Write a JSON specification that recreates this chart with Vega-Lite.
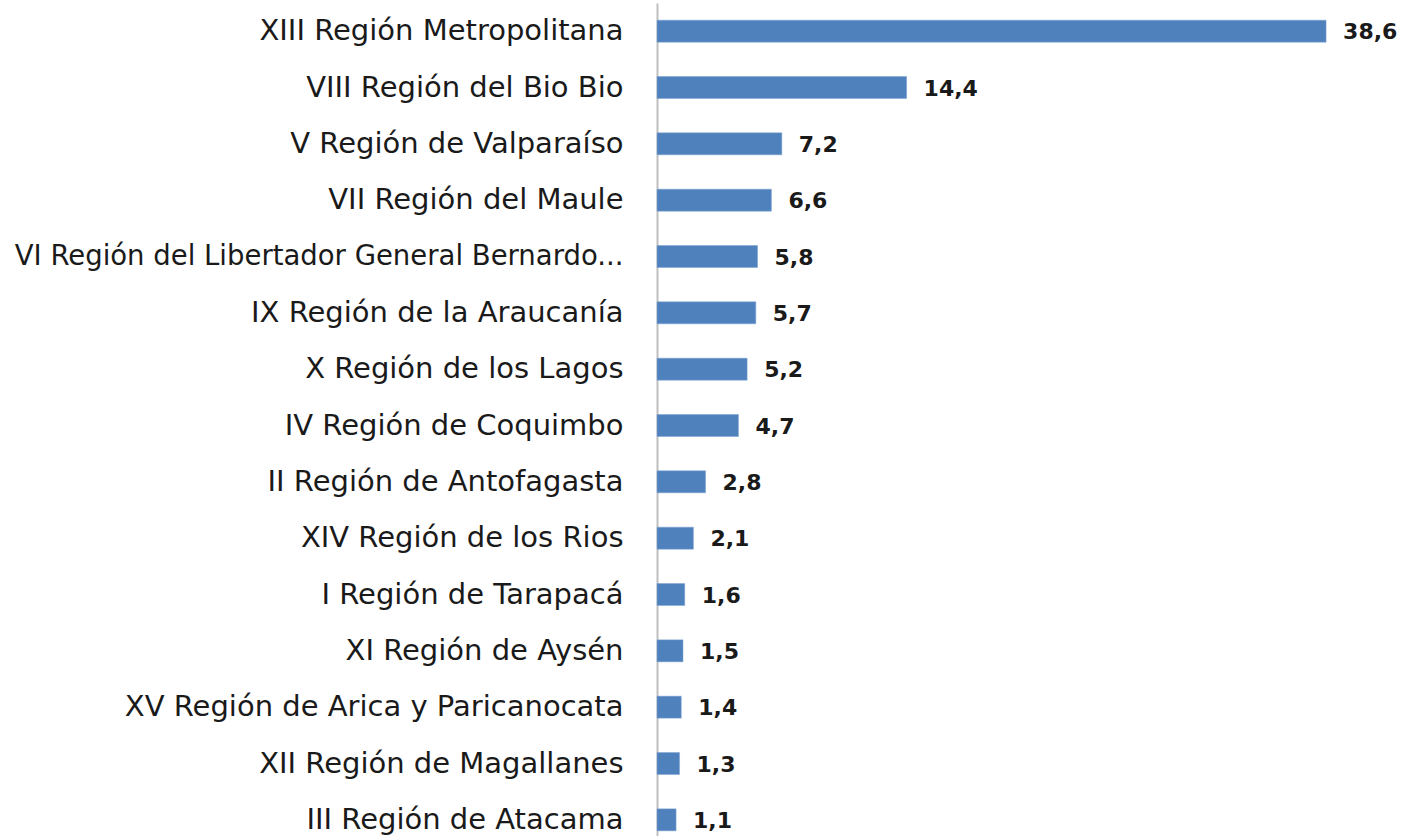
{
  "$schema": "https://vega.github.io/schema/vega-lite/v6.json",
  "autosize": "none",
  "padding": {"left": 657, "top": 3, "right": 0, "bottom": 0},
  "width": 745,
  "height": 845,
  "background": "white",
  "config": {
    "view": {"stroke": null},
    "locale": {"number": {"decimal": ",", "thousands": ".", "grouping": [3], "currency": ["$", ""]}}
  },
  "data": {
    "values": [
      {"region": "XIII Región Metropolitana", "value": 38.6},
      {"region": "VIII Región del Bio Bio", "value": 14.4},
      {"region": "V Región de Valparaíso", "value": 7.2},
      {"region": "VII Región del Maule", "value": 6.6},
      {"region": "VI Región del Libertador General Bernardo...", "value": 5.8},
      {"region": "IX Región de la Araucanía", "value": 5.7},
      {"region": "X Región de los Lagos", "value": 5.2},
      {"region": "IV Región de Coquimbo", "value": 4.7},
      {"region": "II Región de Antofagasta", "value": 2.8},
      {"region": "XIV Región de los Rios", "value": 2.1},
      {"region": "I Región de Tarapacá", "value": 1.6},
      {"region": "XI Región de Aysén", "value": 1.5},
      {"region": "XV Región de Arica y Paricanocata", "value": 1.4},
      {"region": "XII Región de Magallanes", "value": 1.3},
      {"region": "III Región de Atacama", "value": 1.1}
    ]
  },
  "encoding": {
    "y": {
      "field": "region",
      "type": "nominal",
      "sort": null,
      "scale": {"paddingInner": 0.61, "paddingOuter": 0.305},
      "axis": {
        "title": null,
        "ticks": false,
        "domainColor": "#bfbfbf",
        "domainWidth": 2,
        "labelFont": "DejaVu Sans",
        "labelFontSize": {"condition": {"test": "length(datum.label) > 40", "value": 27.5}, "value": 29},
        "labelColor": "#1a1a1a",
        "labelPadding": 34,
        "labelLimit": 700
      }
    },
    "x": {
      "field": "value",
      "type": "quantitative",
      "scale": {"domain": [0, 42.98], "nice": false, "zero": true},
      "axis": null
    }
  },
  "layer": [
    {"mark": {"type": "bar", "color": "#4f81bd", "stroke": "#7fa3d0", "strokeWidth": 0.5}},
    {
      "mark": {"type": "text", "align": "left", "baseline": "middle", "dx": 17, "dy": 1, "font": "DejaVu Sans", "fontSize": 22, "fontWeight": "bold", "color": "#1a1a1a"},
      "encoding": {"text": {"field": "value", "type": "quantitative", "format": ".1f"}}
    }
  ]
}
